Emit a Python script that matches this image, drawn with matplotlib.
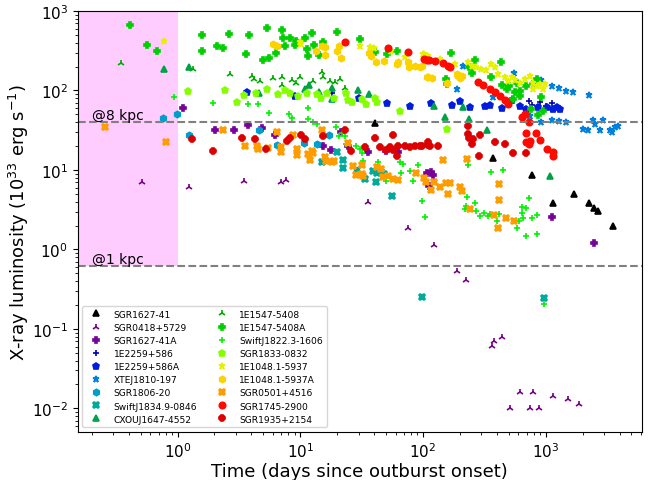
import numpy as np
import matplotlib
matplotlib.use('Agg')
import matplotlib.pyplot as plt

# outburst light curves, time in days, luminosity in 1e33 erg/s
names = ['SGR1627-41', 'SGR0418+5729', 'SGR1627-41A', '1E2259+586', '1E2259+586A',
         'XTEJ1810-197', 'SGR1806-20', 'SwiftJ1834.9-0846', 'CXOUJ1647-4552',
         '1E1547-5408', '1E1547-5408A', 'SwiftJ1822.3-1606', 'SGR1833-0832',
         '1E1048.1-5937', '1E1048.1-5937A', 'SGR0501+4516', 'SGR1745-2900', 'SGR1935+2154']

t_sgr1627 = [40.5, 369, 767, 1151, 1688, 2263, 2500, 2649, 3508]
L_sgr1627 = [39, 14.0, 8.65, 3.81, 4.99, 3.88, 3.36, 3.05, 1.98]

t_sgr0418 = [0.51, 1.25, 3.45, 7.0, 7.67, 35.8, 75.7, 123, 191, 225, 366, 380, 445,
             514, 617, 748, 796, 881, 1151, 1508, 1875]
L_sgr0418 = [7.0, 6.1, 7.2, 7.0, 7.55, 3.96, 1.88, 1.15, 0.537, 0.41, 0.0617, 0.0713, 0.0787,
             0.0101, 0.0163, 0.0101, 0.0163, 0.0101, 0.0145, 0.0132, 0.0113]

t_sgr1627a = [1.11, 2.01, 2.88, 3.74, 4.89, 6.17, 15.2, 17.9, 21.3, 24.6, 35.7, 50.4, 62.8,
              107, 111, 116, 120, 1124, 2456]
L_sgr1627a = [60.8, 31.9, 32.0, 36.5, 33.5, 27.3, 20.2, 18.0, 30.3, 20.2, 17.0, 17.3, 17.0,
              9.17, 6.35, 9.5, 8.6, 2.56, 1.2]

t_1e2259 = [18, 726, 908, 1130, 780, 1000]
L_1e2259 = [92, 74.5, 72.3, 70, 65, 63]

t_1e2259a = [3.65, 9.04, 29.9, 51.4, 78.2, 117, 171, 200, 241, 319, 351, 437, 528, 617,
             698, 869, 1017, 1152, 1227, 1306]
L_1e2259a = [96.6, 86, 79.8, 69.6, 64.4, 69.6, 65.7, 74.5, 61.5, 62.9, 65.7, 60.2, 76.6, 64.4,
             58.5, 61.5, 61.5, 58.5, 61.5, 58.5]

t_xte1810 = [188, 213, 373, 554, 743, 925, 925, 1122, 1122, 1288, 1288, 1461, 1461, 1656,
             2023, 2220, 2237, 2410, 2518, 2766, 2910, 3335, 3445, 3665, 3899]
L_xte1810 = [104.5, 201, 83.6, 166, 48.2, 135.5, 39.8, 114, 42.2, 106, 41.5, 97.7, 39.8, 96,
             32.8, 31.9, 87.8, 43, 37.9, 32.2, 42.7, 31.9, 29.8, 35, 36]

t_sgr1806 = [0.755, 0.987, 1.24, 4.57, 6.41, 10.7, 13.8, 17.1]
L_sgr1806 = [44.7, 50.6, 27.5, 31.7, 20.8, 21.7, 21.0, 27.5]

t_swift1834 = [14.9, 19.8, 22.4, 22.4, 29.1, 33.8, 38.8, 41.4, 41.9, 45.4, 48, 56.1, 97.4, 962]
L_swift1834 = [12.5, 17.0, 13.3, 10.6, 10.1, 7.7, 9.8, 7.0, 9.2, 9.4, 9.0, 4.67, 0.253, 0.243]

t_cxou1647 = [0.778, 1.24, 4.57, 10.9, 11.8, 14.3, 18.3, 18.3, 29.7, 36.3, 123, 151, 213,
              238, 330, 1082]
L_cxou1647 = [188, 195, 92.2, 104.5, 117, 95, 109, 78, 102.8, 90.4, 64.4, 46.8, 61.5,
              43.8, 32.2, 8.49]

t_1e1547 = [0.345, 1.34, 2.70, 4.08, 4.18, 4.69, 5.94, 7.04, 7.04, 8.49, 9.21, 10.0, 12.7,
            14.9, 15.4, 17.4, 19.2, 21, 23.1, 23.8]
L_1e1547 = [222, 188, 161, 151, 139, 133, 142, 146, 117, 136, 124, 146, 130,
            169, 146, 133, 127, 139, 109, 95]

t_1e1547a = [0.406, 0.562, 0.675, 1.57, 1.57, 2.08, 2.33, 2.63, 3.58, 3.83, 4.99, 5.31, 5.58,
             6.29, 7.08, 7.17, 7.53, 8.28, 9.02, 9.15, 10.9, 11.3, 11.5, 12.4, 13.0, 14.3,
             15.2, 19.9, 30.6, 40.5, 51.1, 61.1, 154, 158, 168, 239, 253, 265, 358, 429,
             437, 484, 507, 543, 561, 580, 617, 617, 698, 753, 790, 843, 870, 925, 944]
L_1e1547a = [661, 377, 311, 499, 317, 366, 341, 514, 288, 499, 242, 606, 258,
             294, 582, 453, 366, 453, 377, 416, 453, 333, 274, 528, 377, 279,
             404, 549, 444, 302, 288, 311, 139, 122, 296, 195, 166, 244, 146, 226,
             117, 104, 113, 78, 95, 126, 99, 86, 113, 58.5, 121, 139, 49.7, 82, 55.7]

t_swift1822 = [0.93, 1.93, 3.76, 4.49, 5.58, 8.13, 8.6, 11.6, 11.6, 12.6, 13.6, 19.5, 20.8,
               22.0, 23.1, 23.8, 28.7, 30.6, 31.6, 32.6, 43, 50.4, 64.8, 66.8, 69, 78.2, 83,
               91.5, 98.6, 104, 219, 224, 227, 234, 267, 270, 294, 316, 342, 350, 356, 398,
               418, 450, 473, 580, 604, 640, 640, 660, 698, 698, 731, 774, 843, 843, 962]
L_swift1822 = [82, 68.9, 66.7, 66.7, 51.6, 50.6, 45.1, 59.7, 43.8, 40.4, 37.8, 35.1, 27,
               29.5, 27, 21.2, 20.2, 18.4, 16.4, 12.9, 12.5, 7.34, 12.7, 9.17, 11.8, 9.6, 7.2,
               11.5, 4.11, 2.59, 3.19, 3.56, 4.61, 11.7, 3.85, 3.05, 2.66, 2.9, 2.66, 2.8, 9.5, 2.31,
               2.83, 9.9, 2.52, 1.85, 2.26, 3.4, 2.9, 2.52, 3.3, 1.47, 4.45, 2.5, 2.72, 1.57, 0.206]

t_sgr1833 = [1.21, 2.43, 3.06, 3.49, 4.34, 5.37, 6.6, 7.49, 8.23, 9.6, 11.4, 13.6, 14.7,
             16.4, 18.8, 23.6, 24.3, 26.3, 32.1, 34.6, 40.5, 41.9, 65.6, 158]
L_sgr1833 = [97.7, 100.5, 72.3, 88.6, 93, 104.5, 90.5, 102.6, 92.2, 84.5, 92.2, 90.5, 80.5,
             92.2, 80.5, 92, 76.6, 72.3, 78, 67.6, 80.5, 72.3, 54.7, 32.8]

t_1e1048 = [0.769, 10.0, 10.2, 30.6, 36.9, 40.0, 55.4, 71.3, 100, 102, 110, 137, 181, 234,
            249, 273, 298, 329, 360, 385, 411, 465, 496, 528, 561, 617, 676, 743, 790, 790,
            843, 900, 950, 980]
L_1e1048 = [420, 404, 385, 360, 349, 342, 317, 262, 288, 288, 274, 249, 215, 226,
            205, 195, 187, 183, 215, 195, 161, 146, 133, 146, 136, 126, 139, 153.6, 126, 104.5,
            113, 121, 104.5, 121]

t_1e1048a = [5.94, 6.41, 13.4, 14.9, 15.9, 15.9, 19.8, 20.8, 21.4, 36.5, 37.6, 41.4, 48, 62,
             62.8, 75.7, 77.5, 86, 94, 97.4, 107, 110, 119, 156, 188, 194, 200, 207]
L_1e1048a = [385, 366, 311, 366, 356, 282, 317, 366, 254, 294, 274, 230, 234, 215,
             230, 226, 195, 205, 195, 205, 149, 146, 142, 123, 161, 151, 142, 154]

t_sgr0501 = [0.254, 0.803, 2.33, 3.54, 4.45, 4.54, 5.47, 6.41, 6.94, 6.94, 8.65, 9.44, 9.48,
             11.6, 12.0, 12.4, 12.8, 14.9, 15.9, 16.2, 18.0, 18.9, 24.6, 27, 28.7, 31.6, 31.6,
             32.3, 41.9, 45.9, 47.4, 52, 57.2, 62.8, 88.5, 102, 106, 117, 124, 137, 146, 154,
             161, 166, 200, 210, 227, 241, 378, 412, 414, 414, 473, 550]
L_sgr0501 = [35.1, 22.7, 32.2, 20.2, 20.2, 18.4, 19.1, 29.8, 19.4, 16.8, 27.5, 18.4, 15.4,
             15.9, 13.5, 17.4, 16.4, 32.2, 14.5, 12.9, 12.5, 13.1, 21.7, 11.3, 8.73, 11.5, 8.89,
             8.3, 11.0, 10.3, 8.09, 8.31, 7.7, 7.48, 9.12, 7.9, 7.0, 5.65, 7.0, 6.17, 13.4, 6.8,
             4.99, 6.8, 6.17, 5.5, 13.7, 3.23, 2.74, 1.85, 6.67, 4.14, 2.52, 2.30]

t_sgr1745 = [23.1, 52, 75.7, 102, 107, 112, 125, 146, 161, 166, 281, 306, 350, 386, 425, 465,
             496, 640, 676, 731, 690, 830, 698, 727, 743, 900, 1017, 1152, 1152]
L_sgr1745 = [404, 339, 302, 249, 242, 244, 237, 222, 205, 195, 129, 117, 104.5, 95, 84.5, 76.6,
             67.6, 46, 50.6, 39.8, 29.2, 29.2, 22.7, 21.3, 23.4, 23.7, 18.4, 16.8, 15.1]

t_sgr1935 = [1.30, 1.93, 3.36, 4.27, 5.25, 7.82, 8.23, 10.2, 10.9, 15.4, 23.1, 26.1, 33.5, 41,
             44.5, 50.4, 53.6, 57.2, 57.2, 61.5, 62.8, 71.3, 78.2, 86, 94, 97.4, 110, 110, 114,
             133, 234, 234, 238, 249, 256, 287, 290, 386, 465, 537, 698]
L_sgr1935 = [24.5, 17.2, 25, 24.5, 18.4, 23.4, 25, 27.5, 24.5, 27, 32.2, 17.4, 19.4, 25,
             19.4, 18, 19.4, 18, 27.5, 15.1, 20.2, 20.2, 19.6, 20.2, 20.2, 20.2, 20.7, 22.3, 20.2,
             20.2, 35.4, 28.3, 25, 21.3, 24.5, 15.1, 27.5, 22.7, 21.3, 16.4, 16.4]

times = [t_sgr1627, t_sgr0418, t_sgr1627a, t_1e2259, t_1e2259a, t_xte1810, t_sgr1806,
         t_swift1834, t_cxou1647, t_1e1547, t_1e1547a, t_swift1822, t_sgr1833, t_1e1048,
         t_1e1048a, t_sgr0501, t_sgr1745, t_sgr1935]
lums = [L_sgr1627, L_sgr0418, L_sgr1627a, L_1e2259, L_1e2259a, L_xte1810, L_sgr1806,
        L_swift1834, L_cxou1647, L_1e1547, L_1e1547a, L_swift1822, L_sgr1833, L_1e1048,
        L_1e1048a, L_sgr0501, L_sgr1745, L_sgr1935]

markers = ['^', '2', 'P', '+', 'p', '*', 'h', 'X', '^',
           '2', 'P', '+', 'p', '*', 'h', 'X', 'o', '8']
colors = plt.cm.nipy_spectral(np.linspace(0, 0.9, len(names)))

L_8kpc = 40
L_1kpc = L_8kpc / 64.

xlo, xhi = 0.154, 6085
ylo, yhi = 0.00506, 1000

fig = plt.figure(figsize=(6.49, 4.81), dpi=100)
ax = fig.add_axes([0.120, 0.100, 0.869, 0.875])

# region below one day
ax.fill_between([xlo, 1.0], L_1kpc, yhi, color='magenta', alpha=0.2, lw=0)

for name, t, L, m, c in zip(names, times, lums, markers, colors):
    ax.plot(t, L, ls='none', marker=m, color=c, ms=4.6, mew=1.2, label=name)

ax.axhline(L_8kpc, ls='--', color='gray', lw=1.5)
ax.axhline(L_1kpc, ls='--', color='gray', lw=1.5)
ax.text(0.2, L_8kpc * 1.08, '@8 kpc', fontsize=10)
ax.text(0.2, L_1kpc * 1.08, '@1 kpc', fontsize=10)

ax.set_xscale('log')
ax.set_yscale('log')
ax.set_xlim(xlo, xhi)
ax.set_ylim(ylo, yhi)
ax.tick_params(labelsize=11)
ax.set_xlabel('Time (days since outburst onset)', fontsize=13, labelpad=1)
ax.set_ylabel('X-ray luminosity ($10^{33}$ erg s$^{-1}$)', fontsize=13, labelpad=1)
ax.legend(loc='lower left', ncol=2, fontsize=6.6, labelspacing=0.45, handlelength=2.2,
          columnspacing=1.6)

fig.savefig('out.png', dpi=100)
